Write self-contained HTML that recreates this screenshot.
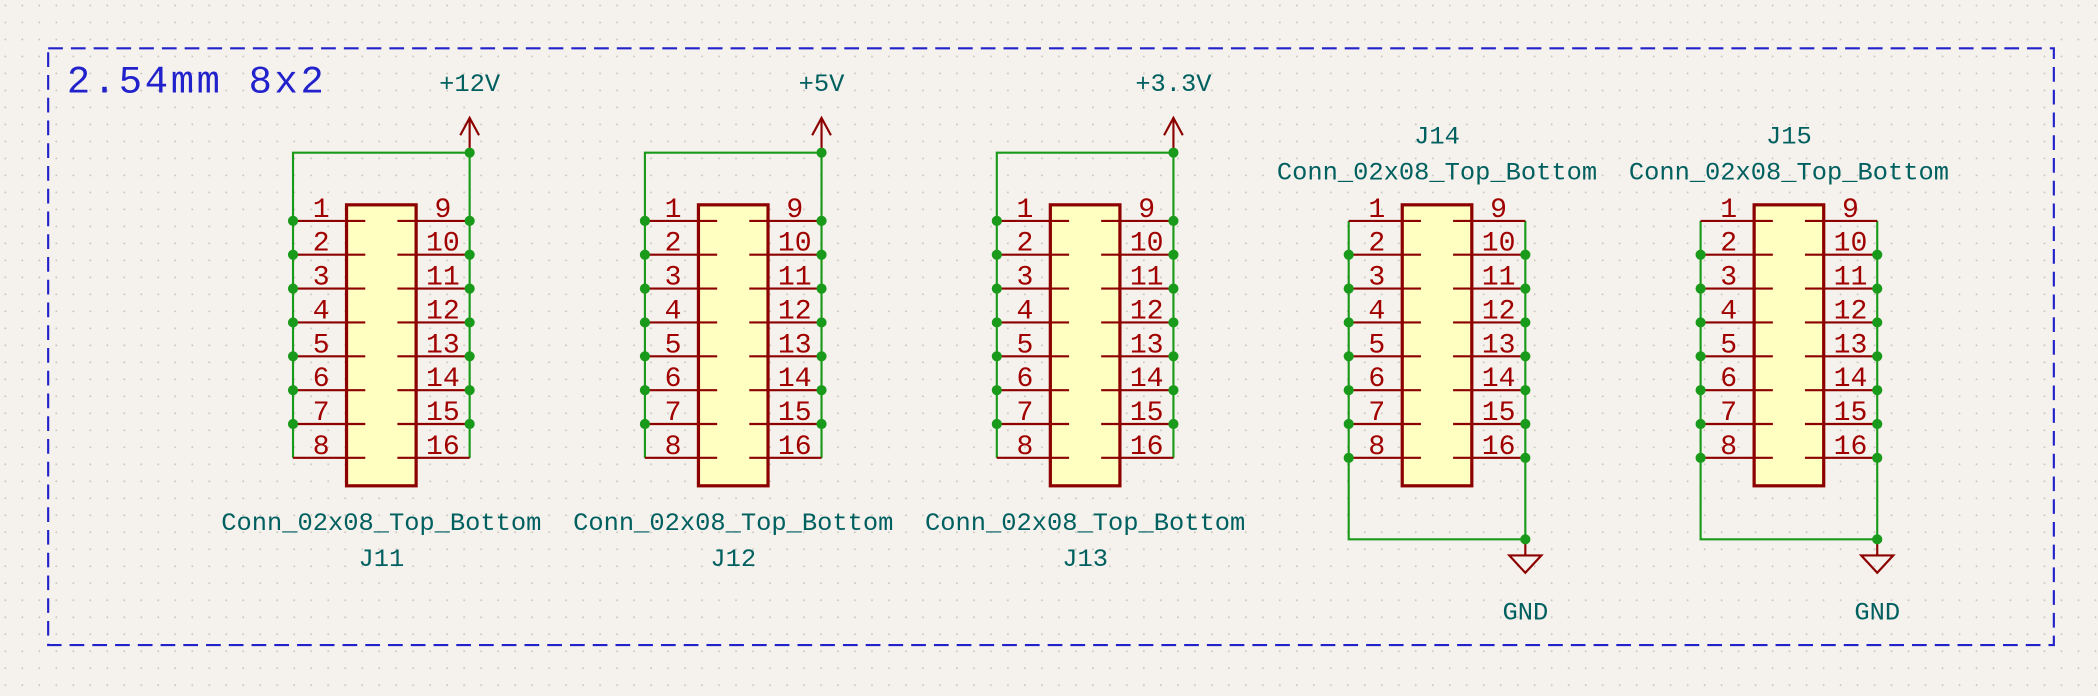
<!DOCTYPE html>
<html><head><meta charset="utf-8"><style>
html,body{margin:0;padding:0;background:#f5f1ec;}
svg{display:block;}
text{font-family:"Liberation Mono","DejaVu Sans Mono",monospace;}
</style></head><body>
<svg id="s" width="2098" height="696" viewBox="0 0 1568 520" xmlns="http://www.w3.org/2000/svg">
<defs><pattern id="g" width="12.7" height="12.7" patternUnits="userSpaceOnUse" x="3" y="3"><circle cx="1" cy="1" r="0.7" fill="#c9c4bd"/></pattern></defs>
<rect width="1568" height="520" fill="#f5f1ec"/>
<rect width="1568" height="520" fill="url(#g)"/>
<rect x="36" y="36" width="1499" height="446" fill="none" stroke="#2222cc" stroke-width="1.6" stroke-dasharray="11,6"/>
<text x="50" y="69" font-size="29" letter-spacing="2" fill="#2222cc">2.54mm 8x2</text>
<g id="c"></g>
</svg>
<script>
const NS="http://www.w3.org/2000/svg",g=document.getElementById('c');
function el(t,a,txt){const e=document.createElementNS(NS,t);for(const k in a)e.setAttribute(k,a[k]);if(txt!==undefined)e.textContent=txt;g.appendChild(e);return e;}
const W="#1a9a1a",R="#8c0000",T="#006060";
function dot(x,y){el('circle',{cx:x,cy:y,r:3.8,fill:W});}
const conns=[[219,'top','+12V','J11'],[482,'top','+5V','J12'],[745,'top','+3.3V','J13'],[1008,'bot','GND','J14'],[1271,'bot','GND','J15']];
const py=i=>165+25.3*i;
conns.forEach(([L,type,pw,ref])=>{
  const Rx=L+132,b1=L+40,b2=L+92;
  if(type==='top'){
    el('polyline',{points:`${L},${py(7)} ${L},114 ${Rx},114 ${Rx},${py(7)}`,fill:'none',stroke:W,'stroke-width':1.6});
    el('line',{x1:Rx,y1:114,x2:Rx,y2:88,stroke:R,'stroke-width':1.6});
    el('polyline',{points:`${Rx-7},101 ${Rx},88 ${Rx+7},101`,fill:'none',stroke:R,'stroke-width':1.6});
    el('text',{x:Rx,y:68,'font-size':19,fill:T,'text-anchor':'middle'},pw);
    el('text',{x:L+66,y:396,'font-size':19,fill:T,'text-anchor':'middle'},'Conn_02x08_Top_Bottom');
    el('text',{x:L+66,y:423,'font-size':19,fill:T,'text-anchor':'middle'},ref);
  } else {
    el('polyline',{points:`${L},${py(0)} ${L},403 ${Rx},403 ${Rx},${py(0)}`,fill:'none',stroke:W,'stroke-width':1.6});
    el('line',{x1:Rx,y1:403,x2:Rx,y2:415,stroke:R,'stroke-width':1.6});
    el('polygon',{points:`${Rx-12},415 ${Rx+12},415 ${Rx},428`,fill:'none',stroke:R,'stroke-width':1.6});
    el('text',{x:Rx,y:463,'font-size':19,fill:T,'text-anchor':'middle'},pw);
    el('text',{x:L+66,y:107,'font-size':19,fill:T,'text-anchor':'middle'},ref);
    el('text',{x:L+66,y:134,'font-size':19,fill:T,'text-anchor':'middle'},'Conn_02x08_Top_Bottom');
  }
  el('rect',{x:b1,y:153,width:52,height:210,fill:'#ffffc2',stroke:R,'stroke-width':2.4});
  for(let i=0;i<8;i++){
    const y=py(i);
    el('line',{x1:L,y1:y,x2:b1+14,y2:y,stroke:R,'stroke-width':1.6});
    el('line',{x1:b2-14,y1:y,x2:Rx,y2:y,stroke:R,'stroke-width':1.6});
    el('text',{x:L+21,y:y-3,'font-size':21,fill:'#a00000','text-anchor':'middle'},String(i+1));
    el('text',{x:L+112,y:y-3,'font-size':21,fill:'#a00000','text-anchor':'middle'},String(i+9));
    const show= type==='top' ? i<7 : i>0;
    if(show){dot(L,y);dot(Rx,y);}
  }
  if(type==='top')dot(Rx,114);else dot(Rx,403);
});
</script>
</body></html>
